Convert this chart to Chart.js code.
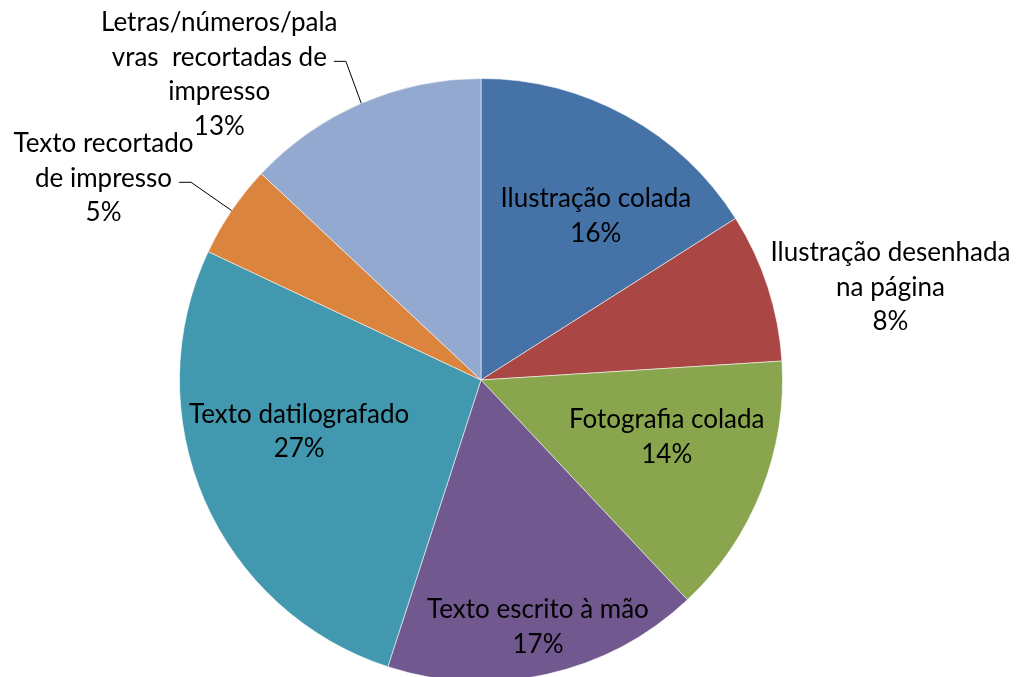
<!DOCTYPE html>
<html>
<head>
<meta charset="utf-8">
<script src="https://cdn.jsdelivr.net/npm/chart.js@4/dist/chart.umd.min.js"></script>
<style>
  html, body { margin: 0; padding: 0; background: #fff; overflow: hidden; }
  #wrap { width: 1018px; height: 700px; }
</style>
</head>
<body>
<div id="wrap"><canvas id="pie" width="1018" height="700"></canvas></div>
<script>
"use strict";
// categories, each label is split into the lines shown in the picture
const categories = [
  ["Ilustração colada"],
  ["Ilustração desenhada", "na página"],
  ["Fotografia colada"],
  ["Texto escrito à mão"],
  ["Texto datilografado"],
  ["Texto recortado", "de impresso"],
  ["Letras/números/pala", "vras  recortadas de", "impresso"]
];
// percentages
const shares = [16, 8, 14, 17, 27, 5, 13];
const colors = ["#4572A7", "#AA4643", "#89A54E", "#71588F", "#4198AF", "#DB843D", "#93A9CF"];

// where each label block sits, relative to pie centre, in units of the radius
const labelSpots = [
  [0.381, -0.543],
  [1.358, -0.308],
  [0.616, 0.190],
  [0.189, 0.820],
  [-0.603, 0.172],
  [-1.252, -0.669],
  [-0.868, -1.013]
];
// which labels get a leader line, and from which text line it starts
const leaders = { 5: 1, 6: 1 };

const FONT = "26px Lato";
const LINE_H = 34.5;

// draws the Excel style data labels (name + percentage)
const pieLabels = {
  id: "pieLabels",
  afterDatasetsDraw(chart) {
    const ctx = chart.ctx;
    const arcs = chart.getDatasetMeta(0).data;
    ctx.save();
    ctx.font = FONT;
    ctx.fillStyle = "#000";
    ctx.textAlign = "center";
    ctx.textBaseline = "middle";
    arcs.forEach((arc, i) => {
      const r = arc.outerRadius;
      const cx = arc.x + labelSpots[i][0] * r;
      const cy = arc.y + labelSpots[i][1] * r;
      const lines = categories[i].concat([shares[i] + "%"]);
      const top = cy - (lines.length - 1) * LINE_H / 2;
      lines.forEach((txt, k) => ctx.fillText(txt, cx, top + k * LINE_H));

      if (leaders[i] !== undefined) {
        const k = leaders[i];
        const w = ctx.measureText(lines[k]).width;
        const sx = cx + w / 2 + 7;
        const sy = top + k * LINE_H + 4;
        const mid = (arc.startAngle + arc.endAngle) / 2;
        const ex = arc.x + Math.cos(mid) * r;
        const ey = arc.y + Math.sin(mid) * r;
        ctx.strokeStyle = "#000";
        ctx.lineWidth = 1;
        ctx.beginPath();
        ctx.moveTo(sx, sy);
        ctx.lineTo(sx + 12, sy);
        ctx.lineTo(ex, ey);
        ctx.stroke();
      }
    });
    ctx.restore();
  }
};

new Chart(document.querySelector("#pie"), {
  type: "pie",
  data: {
    labels: categories.map(c => c.join(" ")),
    datasets: [{
      data: shares,
      backgroundColor: colors,
      borderColor: "rgba(255,255,255,0.55)",
      borderWidth: 1
    }]
  },
  options: {
    responsive: false,
    devicePixelRatio: 1,
    animation: false,
    layout: { padding: { top: 78, bottom: 18, left: 100, right: 156 } },
    plugins: {
      legend: { display: false },
      tooltip: { enabled: false }
    }
  },
  plugins: [pieLabels]
});
</script>
</body>
</html>
